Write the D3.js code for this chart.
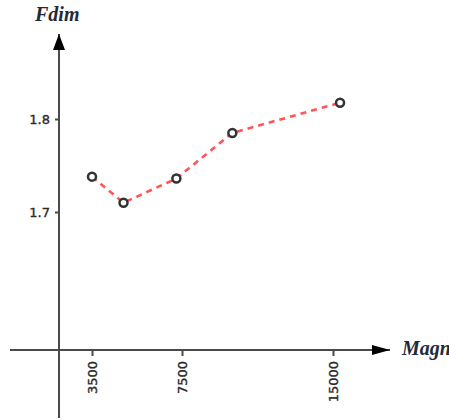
<!DOCTYPE html>
<html>
<head>
<meta charset="utf-8">
<script src="https://cdn.jsdelivr.net/npm/d3@7"></script>
<style>
    body { margin: 0; background: #fff; }
    .axis-line { stroke: #4a4a4a; stroke-width: 2; }
    .tick line { stroke: #4a4a4a; stroke-width: 2; }
    .tick text { font-family: "DejaVu Sans", sans-serif; font-size: 13px; fill: #2a2a2a; stroke: #2a2a2a; stroke-width: 0.35; }
    .title { font-family: "Liberation Serif", serif; font-size: 20px; font-style: italic; font-weight: bold; fill: #1f2a3a; }
</style>
</head>
<body>
<svg width="449" height="420"></svg>
<script>
// values
var magn = [3500, 4900, 7250, 10000, 15350];
var fdim = [1.738, 1.710, 1.736, 1.785, 1.8175];
var xTicks = [3500, 7500, 15000];
var yTicks = [1.7, 1.8];

var svg = d3.select("svg");

// the original x axis is not evenly spaced, so the scale is piecewise
var x = d3.scaleLinear()
            .domain([3500, 7500, 15000])
            .range([92, 182, 333]);
var y = d3.scaleLinear()
            .domain([1.7, 1.8])
            .range([212, 119]);

var originX = 59;
var originY = 350;

var defs = svg.append("defs");
defs.append("marker")
        .attr("id", "arrow-up")
        .attr("viewBox", "0 0 12 16")
        .attr("refX", 6)
        .attr("refY", 0)
        .attr("markerWidth", 12)
        .attr("markerHeight", 16)
        .attr("markerUnits", "userSpaceOnUse")
        .attr("orient", "0")
        .append("path")
        .attr("d", "M0,16 L6,0 L12,16 Z")
        .attr("fill", "#000");
defs.append("marker")
        .attr("id", "arrow-right")
        .attr("viewBox", "0 0 18 10")
        .attr("refX", 18)
        .attr("refY", 5)
        .attr("markerWidth", 18)
        .attr("markerHeight", 10)
        .attr("markerUnits", "userSpaceOnUse")
        .attr("orient", "0")
        .append("path")
        .attr("d", "M0,0 L18,5 L0,10 Z")
        .attr("fill", "#000");

// axis lines
svg.append("line")
        .attr("class", "axis-line")
        .attr("x1", originX)
        .attr("y1", 418)
        .attr("x2", originX)
        .attr("y2", 34)
        .attr("marker-end", "url(#arrow-up)");
svg.append("line")
        .attr("class", "axis-line")
        .attr("x1", 10)
        .attr("y1", originY)
        .attr("x2", 390)
        .attr("y2", originY)
        .attr("marker-end", "url(#arrow-right)");

// ticks
var yAxis = svg.append("g")
                .attr("transform", "translate(" + originX + ",0)")
                .call(d3.axisLeft(y).tickValues(yTicks).tickFormat(d3.format(".1f")).tickSize(4).tickPadding(5));
yAxis.select(".domain").remove();

var xAxis = svg.append("g")
                .attr("transform", "translate(0," + originY + ")")
                .call(d3.axisBottom(x).tickValues(xTicks).tickFormat(d3.format("d")).tickSize(6));
xAxis.select(".domain").remove();
xAxis.selectAll("text")
        .attr("transform", "rotate(-90)")
        .attr("text-anchor", "end")
        .attr("x", -11)
        .attr("y", 0)
        .attr("dy", "0.35em");

// titles
svg.append("text")
        .attr("class", "title")
        .attr("x", 35)
        .attr("y", 21)
        .text("Fdim");
svg.append("text")
        .attr("class", "title")
        .attr("x", 402)
        .attr("y", 355)
        .text("Magn");

// series
var points = d3.zip(magn, fdim);
var line = d3.line()
                .x(function(d) { return x(d[0]); })
                .y(function(d) { return y(d[1]); });
svg.append("path")
        .datum(points)
        .attr("d", line)
        .attr("fill", "none")
        .attr("stroke", "#ff5555")
        .attr("stroke-width", 2.6)
        .attr("stroke-dasharray", "6,5");
svg.selectAll("circle")
        .data(points)
        .enter().append("circle")
        .attr("cx", function(d) { return x(d[0]); })
        .attr("cy", function(d) { return y(d[1]); })
        .attr("r", 4)
        .attr("fill", "#fff")
        .attr("stroke", "#333")
        .attr("stroke-width", 2.5);
</script>
</body>
</html>
